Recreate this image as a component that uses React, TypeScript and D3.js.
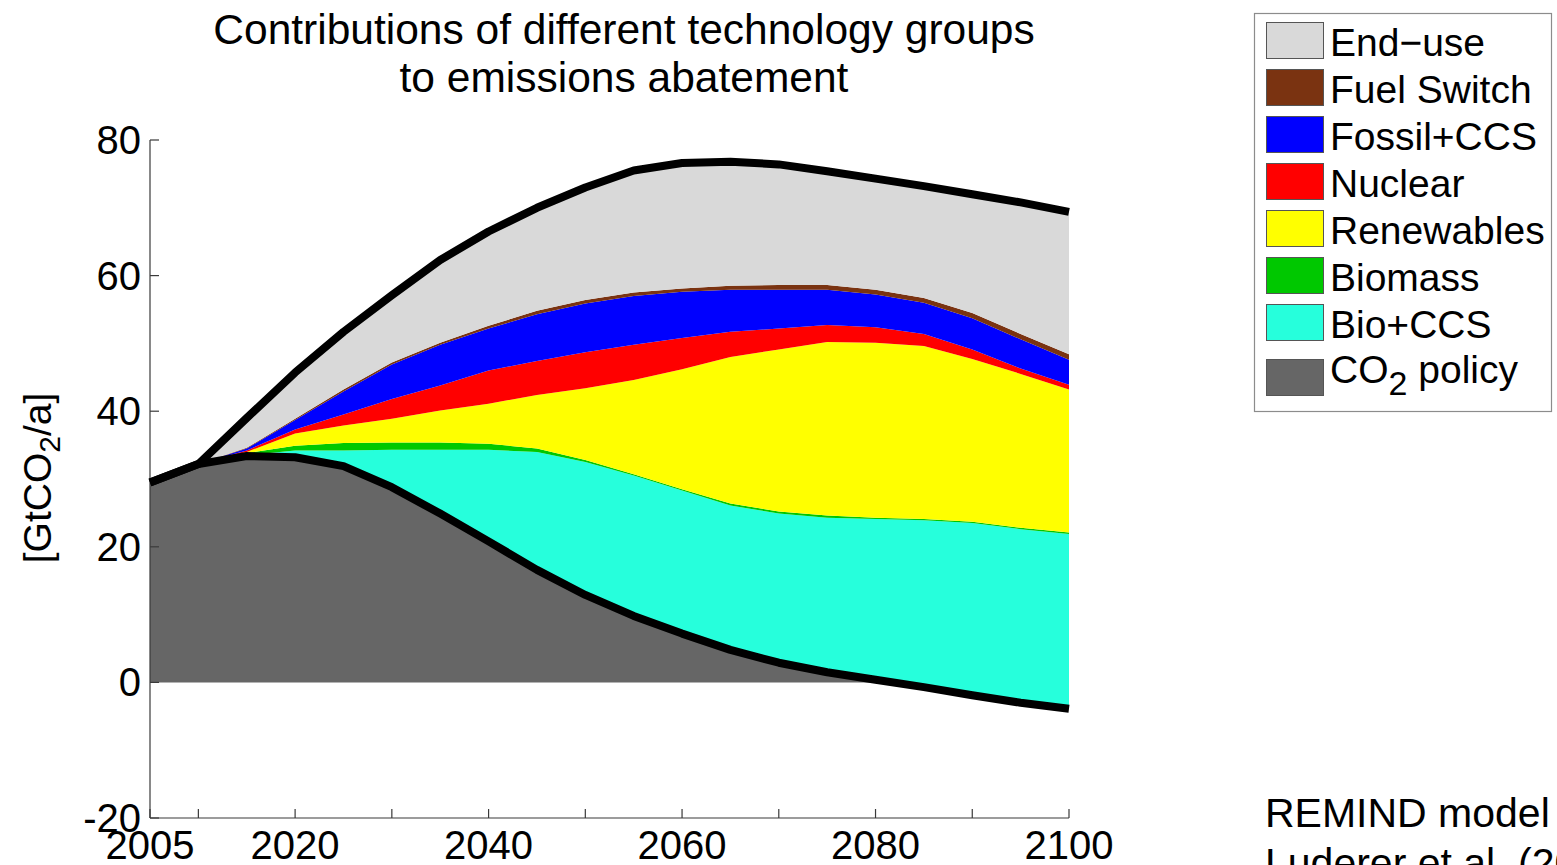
import React from 'react';
import * as d3 from 'd3';

const years = [2005, 2010, 2015, 2020, 2025, 2030, 2035, 2040, 2045, 2050, 2055, 2060, 2065, 2070, 2075, 2080, 2085, 2090, 2095, 2100];

const co2Policy = [29.5, 32.2, 33.4, 33.2, 31.9, 28.8, 24.9, 20.8, 16.6, 12.9, 9.8, 7.2, 4.8, 2.9, 1.5, 0.4, -0.7, -1.9, -3.0, -3.9];
const bioCCS = [0, 0, 0.1, 1.0, 2.3, 5.5, 9.4, 13.5, 17.4, 19.6, 20.7, 21.1, 21.3, 22.0, 22.8, 23.7, 24.6, 25.4, 25.6, 25.8];
const biomass = [0, 0, 0.3, 0.7, 1.1, 1.1, 1.1, 0.9, 0.5, 0.3, 0.2, 0.2, 0.3, 0.3, 0.3, 0.2, 0.2, 0.2, 0.2, 0.2];
const renewables = [0, 0, 0.2, 1.8, 2.6, 3.5, 4.7, 5.9, 7.9, 10.6, 13.9, 17.7, 21.6, 23.9, 25.6, 25.8, 25.5, 24.0, 22.7, 21.1];
const nuclear = [0, 0, 0.2, 0.6, 1.6, 2.9, 3.7, 4.9, 5.0, 5.3, 5.2, 4.6, 3.7, 3.1, 2.5, 2.3, 1.8, 1.4, 0.8, 0.7];
const fossilCCS = [0, 0, 0.3, 1.4, 3.4, 5.1, 6.0, 6.2, 6.9, 7.2, 7.2, 6.8, 6.2, 5.7, 5.2, 4.8, 4.6, 4.6, 4.3, 3.7];
const fuelSwitch = [0, 0, 0.1, 0.2, 0.3, 0.3, 0.3, 0.4, 0.5, 0.5, 0.5, 0.5, 0.6, 0.7, 0.7, 0.7, 0.7, 0.8, 0.8, 0.8];
const endUse = [0, 0, 4.4, 6.8, 8.5, 9.9, 12.2, 13.9, 15.2, 16.6, 18.0, 18.5, 18.3, 17.8, 16.8, 16.4, 16.5, 17.5, 19.4, 21.0];

const xTicks = [2005, 2010, 2020, 2030, 2040, 2050, 2060, 2070, 2080, 2090, 2100];
const xTickLabels = [2005, 2020, 2040, 2060, 2080, 2100];
const yTicks = [-20, 0, 20, 40, 60, 80];

const titleLines = ['Contributions of different technology groups', 'to emissions abatement'];

// bottom-to-top stacking order
const stackSeries = [
  { name: 'CO2 policy', values: co2Policy, color: '#666666' },
  { name: 'Bio+CCS', values: bioCCS, color: '#26FFDC' },
  { name: 'Biomass', values: biomass, color: '#00C800' },
  { name: 'Renewables', values: renewables, color: '#FFFF00' },
  { name: 'Nuclear', values: nuclear, color: '#FF0000' },
  { name: 'Fossil+CCS', values: fossilCCS, color: '#0000FF' },
  { name: 'Fuel Switch', values: fuelSwitch, color: '#7A3311' },
  { name: 'End\u2212use', values: endUse, color: '#D9D9D9' },
];

const FONT = '"Liberation Sans", Arial, Helvetica, sans-serif';

export default function App() {
  const W = 1557;
  const H = 865;
  const x = d3.scaleLinear().domain([2005, 2100]).range([150, 1069]);
  const y = d3.scaleLinear().domain([-20, 80]).range([818, 140]);

  let cum = years.map(() => 0);
  const bands = stackSeries.map((s) => {
    const lower = cum.slice();
    const upper = cum.map((c, i) => c + s.values[i]);
    cum = upper;
    return { ...s, lower, upper };
  });
  const total = cum;

  const idx = years.map((_, i) => i);
  const areaFor = (lower: number[], upper: number[]) =>
    d3
      .area<number>()
      .x((i) => x(years[i]))
      .y0((i) => y(lower[i]))
      .y1((i) => y(upper[i]))(idx) as string;

  const lineFor = (vals: number[]) =>
    d3
      .line<number>()
      .x((i) => x(years[i]))
      .y((i) => y(vals[i]))(idx) as string;

  const legendItems = [...stackSeries].reverse();
  const swatchY = [22, 69, 116, 163, 210, 257, 304, 359];

  const axisColor = '#3a3a3a';
  const tickLen = 9;

  return (
    <svg
      width={W}
      height={H}
      style={{ position: 'fixed', left: 0, top: 0, background: '#ffffff' }}
      fontFamily={FONT}
    >
      <rect x={0} y={0} width={W} height={H} fill="#ffffff" />
      {/* Title */}
      <text x={624} y={44} fontSize={42.5} textAnchor="middle" fill="#000">
        {titleLines[0]}
      </text>
      <text x={624} y={92} fontSize={42.5} textAnchor="middle" fill="#000">
        {titleLines[1]}
      </text>

      {/* Stacked areas */}
      {bands.map((b) => (
        <path key={b.name} d={areaFor(b.lower, b.upper)} fill={b.color} stroke="none" />
      ))}

      {/* Axes */}
      <line x1={150} y1={y(80)} x2={150} y2={y(-20)} stroke={axisColor} strokeWidth={1.2} />
      <line x1={150} y1={y(-20)} x2={x(2100)} y2={y(-20)} stroke={axisColor} strokeWidth={1.2} />
      {yTicks.map((t) => (
        <line key={'yt' + t} x1={150} x2={150 + tickLen} y1={y(t)} y2={y(t)} stroke={axisColor} strokeWidth={1.2} />
      ))}
      {xTicks.map((t) => (
        <line key={'xt' + t} x1={x(t)} x2={x(t)} y1={y(-20)} y2={y(-20) - tickLen} stroke={axisColor} strokeWidth={1.2} />
      ))}

      {/* Thick black lines */}
      <path d={lineFor(total)} fill="none" stroke="#000" strokeWidth={8} strokeLinejoin="round" />
      <path d={lineFor(co2Policy)} fill="none" stroke="#000" strokeWidth={8} strokeLinejoin="round" />

      {/* Tick labels */}
      {yTicks.map((t) => (
        <text key={'yl' + t} x={141} y={y(t) + 14} fontSize={40} textAnchor="end" fill="#000">
          {t < 0 ? '-' + Math.abs(t) : String(t)}
        </text>
      ))}
      {xTickLabels.map((t) => (
        <text key={'xl' + t} x={x(t)} y={859} fontSize={40} textAnchor="middle" fill="#000">
          {t}
        </text>
      ))}

      {/* Y label */}
      <text transform="translate(51,478) rotate(-90)" fontSize={39} textAnchor="middle" fill="#000">
        <tspan>[GtCO</tspan>
        <tspan dy={9} fontSize={30}>2</tspan>
        <tspan dy={-9}>/a]</tspan>
      </text>

      {/* Legend */}
      <rect x={1254.5} y={13.5} width={297} height={398} fill="#fff" stroke="#8c8c8c" strokeWidth={1.2} />
      {legendItems.map((s, i) => (
        <g key={'lg' + s.name}>
          <rect x={1266.5} y={swatchY[i] + 0.5} width={57} height={36} fill={s.color} stroke="#555" strokeWidth={1} />
          {s.name === 'CO2 policy' ? (
            <text x={1330} y={swatchY[i] + 24} fontSize={39} fill="#000">
              <tspan>CO</tspan>
              <tspan dy={12} fontSize={34}>2</tspan>
              <tspan dy={-12}> policy</tspan>
            </text>
          ) : (
            <text x={1330} y={swatchY[i] + 34} fontSize={39} fill="#000">
              {s.name}
            </text>
          )}
        </g>
      ))}

      {/* Source note */}
      <text x={1265} y={827} fontSize={41} fill="#000">REMIND model</text>
      <text x={1265} y={877} fontSize={41} fill="#000">Luderer et al. (2012)</text>
    </svg>
  );
}
